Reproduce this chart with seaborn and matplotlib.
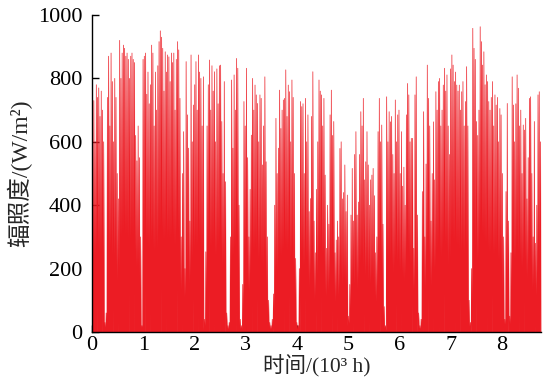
import numpy as np
import pandas as pd
import seaborn as sns
import matplotlib
matplotlib.use("Agg")
import matplotlib.pyplot as plt

# Daily peak irradiance (W/m^2), one value per day (365 days)
seg0 = [650, 730, 600, 780, 740, 770, 680, 760, 700, 600, 30, 60, 740, 870, 650,
        880, 790, 600, 800, 740, 500, 420, 920, 800, 880, 905, 895, 870, 880, 860,
        800, 870, 880, 860, 850, 620, 540, 650, 550, 300, 20, 860]
seg1 = [870, 880, 750, 820, 720, 780, 905, 880, 650, 820, 700, 840, 916, 950, 930,
        895, 760, 884, 820, 874, 868, 790, 880, 850, 880, 700, 860, 916, 890, 737,
        300, 500, 632, 200, 853, 685, 580, 350, 874, 600, 716, 780]
seg2 = [853, 700, 874, 820, 800, 650, 805, 40, 253, 650, 780, 858, 700, 840, 760,
        821, 600, 830, 720, 840, 842, 664, 500, 790, 474, 60, 20, 30, 300, 795,
        580, 811, 700, 863, 832, 400, 40, 20, 150, 727, 650]
seg3 = [832, 550, 300, 450, 621, 800, 700, 779, 748, 721, 600, 748, 737, 527, 650,
        805, 537, 300, 100, 30, 20, 40, 120, 400, 674, 500, 580, 763, 642, 700,
        732, 737, 827, 680, 779, 758, 600, 795, 740, 500, 232, 30]
seg4 = [20, 200, 727, 711, 720, 500, 737, 600, 685, 380, 421, 680, 821, 350, 250,
        450, 600, 795, 760, 748, 650, 737, 495, 264, 400, 340, 685, 763, 620, 664,
        250, 290, 350, 300, 579, 600, 420, 440, 527, 380, 432, 50]
seg5 = [150, 369, 516, 350, 560, 632, 369, 410, 560, 695, 650, 737, 480, 537, 632,
        527, 400, 480, 495, 516, 430, 250, 300, 632, 737, 600, 653, 340, 80, 20,
        742, 600, 695, 663, 680, 560, 500, 732, 600, 685, 700]
seg6 = [500, 632, 460, 520, 400, 685, 784, 748, 600, 611, 611, 264, 748, 805, 369,
        60, 20, 40, 443, 695, 300, 530, 842, 737, 650, 350, 500, 663, 480, 758,
        700, 790, 800, 650, 700, 779, 832, 760, 811, 650, 560, 830]
seg7 = [874, 842, 790, 820, 779, 760, 779, 700, 758, 790, 650, 727, 837, 650, 100,
        30, 200, 958, 895, 860, 664, 620, 700, 963, 916, 842, 884, 780, 811, 790,
        727, 700, 740, 790, 650, 748, 716, 740, 600, 705, 685, 500]
seg8 = [300, 40, 443, 721, 350, 50, 250, 805, 716, 600, 720, 811, 769, 650, 700,
        500, 653, 637, 674, 420, 550, 737, 742, 500, 300, 664, 280, 400, 748, 758,
        600]

peaks = np.array(seg0 + seg1 + seg2 + seg3 + seg4 + seg5 + seg6 + seg7 + seg8, dtype=float)
days = np.arange(len(peaks))

# Each day: zero at sunrise, peak at noon, zero at sunset (hours of day)
sunrise_h, noon_h, sunset_h = 4, 12, 20
x = np.column_stack([days * 24 + sunrise_h, days * 24 + noon_h, days * 24 + sunset_h]).ravel() / 1000.0
y = np.column_stack([np.zeros_like(peaks), peaks, np.zeros_like(peaks)]).ravel()
df = pd.DataFrame({"t": x, "irr": y})

sns.set_theme(style="ticks")
plt.rcParams["font.family"] = ["Liberation Serif", "Noto Sans CJK SC"]

red = "#ec1c24"
fig = plt.figure(figsize=(5.46, 3.81), dpi=100)
ax = fig.add_axes([0.1685, 0.1286, 0.8225, 0.832])
ax.fill_between(df["t"], df["irr"], 0, color=red, linewidth=0)
sns.lineplot(data=df, x="t", y="irr", ax=ax, color=red, linewidth=0.5,
             estimator=None, sort=False)

ax.set_xlim(0, 8.76)
ax.set_ylim(0, 1000)
ax.set_xticks(range(0, 9))
ax.set_yticks(range(0, 1001, 200))
ax.tick_params(direction="in", length=5, width=1, labelsize=16, colors="black",
               top=False, right=False)
ax.tick_params(axis="y", pad=7)
ax.tick_params(axis="x", pad=3)
for s in ["top", "right"]:
    ax.spines[s].set_visible(False)
for s in ["left", "bottom"]:
    ax.spines[s].set_color("black")
    ax.spines[s].set_linewidth(1)
ax.set_xlabel("时间/(10³ h)", fontsize=15.5, labelpad=0)
ax.set_ylabel("辐照度/(W/m²)", fontsize=17, labelpad=4)

fig.savefig("out.png", dpi=100)
